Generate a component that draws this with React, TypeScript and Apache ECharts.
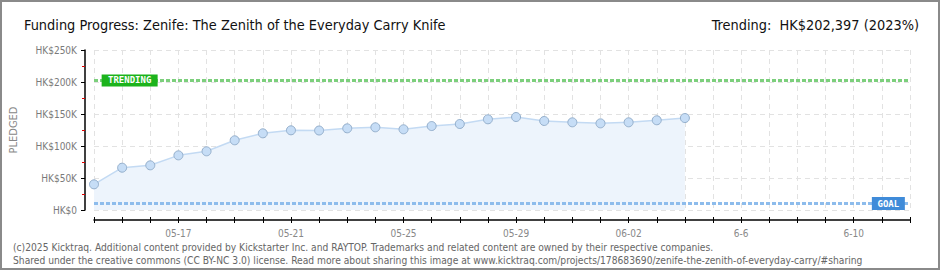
import React, { useEffect, useRef } from "react";
import * as echarts from "echarts";

const categories = [
  "05-14", "05-15", "05-16", "05-17", "05-18", "05-19", "05-20", "05-21", "05-22", "05-23",
  "05-24", "05-25", "05-26", "05-27", "05-28", "05-29", "05-30", "05-31", "06-01", "06-02",
  "06-03", "06-04", "06-05", "06-06", "06-07", "06-08", "06-09", "06-10", "06-11", "06-12",
];
const tickLabels: Record<string, string> = {
  "05-17": "05-17", "05-21": "05-21", "05-25": "05-25", "05-29": "05-29",
  "06-02": "06-02", "06-06": "6-6", "06-10": "6-10",
};
const pledged = [
  40100, 66100, 69800, 85400, 91700, 108900, 119800, 124500, 124200, 127600,
  129200, 126100, 131200, 134400, 141700, 145300, 139100, 137000, 135400, 137000,
  140200, 143700,
];
const trendingValue = 202397;
const goalValue = 10000;
const yTicks = [0, 50000, 100000, 150000, 200000, 250000];

const FONT = "'DejaVu Sans Condensed', 'DejaVu Sans', sans-serif";

export default function App() {
  const ref = useRef<HTMLDivElement>(null);
  useEffect(() => {
    document.body.style.margin = "0";
    const chart = echarts.init(ref.current!, undefined, { renderer: "svg" });
    chart.setOption({
      animation: false,
      backgroundColor: "#ffffff",
      textStyle: { fontFamily: FONT },
      title: [
        {
          text: "Funding Progress: Zenife: The Zenith of the Everyday Carry Knife",
          left: 19, top: 13,
          textStyle: { fontSize: 14.4, fontWeight: "normal", color: "#111", fontFamily: FONT },
        },
        {
          text: "Trending:  HK$202,397 (2023%)",
          right: 16, top: 13,
          textStyle: { fontSize: 14.4, fontWeight: "normal", color: "#111", fontFamily: FONT },
        },
        {
          text: "(c)2025 Kicktraq. Additional content provided by Kickstarter Inc. and RAYTOP. Trademarks and related content are owned by their respective companies.\nShared under the creative commons (CC BY-NC 3.0) license. Read more about sharing this image at www.kicktraq.com/projects/178683690/zenife-the-zenith-of-everyday-carry/#sharing",
          left: 8, top: 236,
          textStyle: { fontSize: 10.2, fontWeight: "normal", color: "#666", lineHeight: 13, fontFamily: FONT },
        },
      ],
      graphic: [
        {
          type: "rect",
          shape: { x: 1, y: 1, width: 938, height: 268 },
          style: { fill: "none", stroke: "#8a8a8a", lineWidth: 2 },
          silent: true,
        },
      ],
      grid: { left: 85, right: 30, top: 50, bottom: 60, containLabel: false },
      xAxis: [
        {
          type: "category",
          position: "bottom",
          data: categories,
          boundaryGap: false,
          offset: 10,
          axisLine: { show: true, onZero: false, lineStyle: { color: "#000", width: 1.5 } },
          axisTick: { show: true, interval: 0, length: 3, lineStyle: { color: "#000" } },
          axisLabel: {
            interval: 0,
            formatter: (v: string) => tickLabels[v] ?? "",
            color: "#888", fontSize: 10, margin: 8,
          },
          splitLine: { show: true, interval: 0, lineStyle: { color: "#e2e2e2", type: [5, 4] } },
        },
        {
          type: "category",
          position: "bottom",
          data: categories,
          boundaryGap: false,
          offset: 10,
          axisLine: { show: false, onZero: false },
          axisTick: { show: true, inside: true, interval: 0, length: 3, lineStyle: { color: "#000" } },
          axisLabel: { show: false },
          splitLine: { show: false },
        },
      ],
      yAxis: {
        type: "value",
        min: 0, max: 250000, interval: 50000,
        offset: 9,
        name: "PLEDGED",
        nameLocation: "middle",
        nameGap: 66,
        nameRotate: 90,
        nameTextStyle: { color: "#888", fontSize: 11, fontFamily: FONT },
        axisLine: { show: true, lineStyle: { color: "#000", width: 1.5 } },
        axisTick: { show: true, length: 4, lineStyle: { color: "#000" } },
        minorTick: { show: true, splitNumber: 2, length: 3, lineStyle: { color: "#e00000" } },
        axisLabel: {
          color: "#7a7a7a", fontSize: 10, margin: 8,
          formatter: (v: number) => (yTicks.includes(v) ? (v === 0 ? "HK$0" : `HK$${v / 1000}K`) : ""),
        },
        splitLine: { show: true, lineStyle: { color: "#e2e2e2", type: [5, 4] } },
      },
      series: [
        {
          type: "line",
          data: pledged,
          symbol: "circle",
          symbolSize: 9,
          lineStyle: { color: "#c3daf3", width: 1.5 },
          itemStyle: { color: "#c6ddf6", borderColor: "#93aecb", borderWidth: 1 },
          areaStyle: { color: "#edf4fc", opacity: 1 },
          z: 2,
          markLine: {
            silent: true,
            symbol: ["none", "none"],
            label: { show: false },
            data: [
              { yAxis: trendingValue, lineStyle: { color: "#7ccf7c", width: 3, type: [4, 2] } },
              { yAxis: goalValue, lineStyle: { color: "#8dbcec", width: 3, type: [4, 2] } },
            ],
            z: 3,
          },
          markPoint: {
            silent: true,
            data: [
              {
                coord: ["05-15", trendingValue],
                symbol: "rect",
                symbolSize: [56, 12],
                symbolOffset: [7.5, 0],
                itemStyle: { color: "#1cb31c", borderWidth: 0 },
                label: {
                  show: true, formatter: "TRENDING", color: "#fff", fontSize: 9, fontWeight: "bold",
                  fontFamily: "'DejaVu Sans Mono', monospace",
                },
              },
              {
                coord: ["06-11", goalValue],
                symbol: "rect",
                symbolSize: [33, 13],
                symbolOffset: [6.5, 0],
                itemStyle: { color: "#3f8bd9", borderWidth: 0 },
                label: {
                  show: true, formatter: "GOAL", color: "#fff", fontSize: 9, fontWeight: "bold",
                  fontFamily: "'DejaVu Sans Mono', monospace",
                },
              },
            ],
            z: 5,
          },
        },
      ],
    });
    return () => chart.dispose();
  }, []);
  return (
    <div
      ref={ref}
      style={{ position: "absolute", left: 0, top: 0, width: 940, height: 270 }}
    />
  );
}
